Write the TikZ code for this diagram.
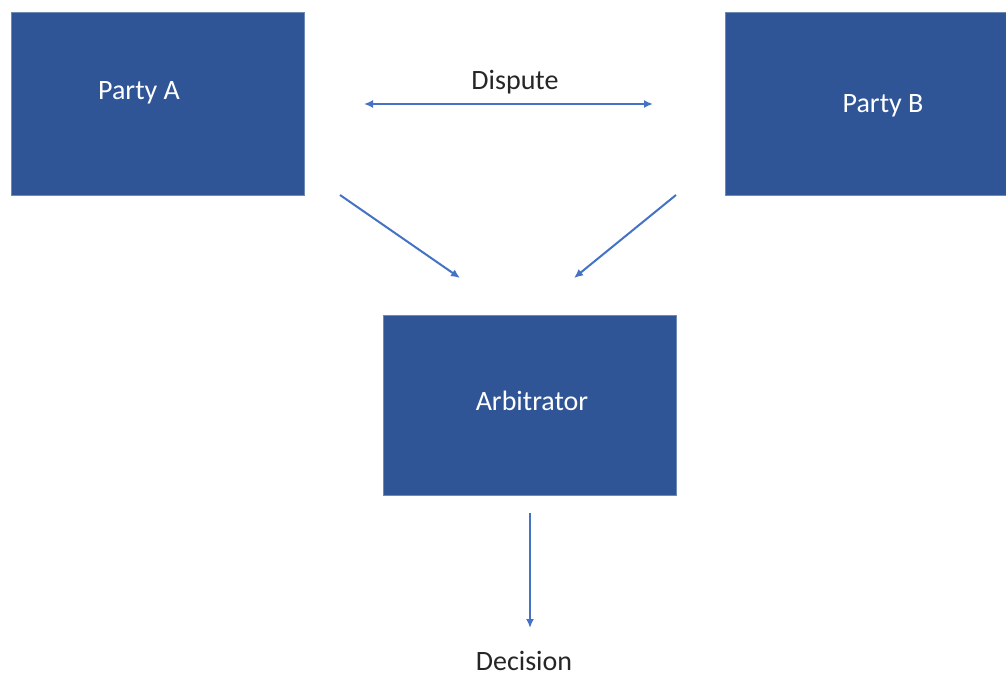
\documentclass[tikz,border=0pt]{standalone}
\usepackage{fontspec}
\setmainfont{Carlito}
\usetikzlibrary{arrows.meta}
\definecolor{boxblue}{HTML}{2F5597}
\definecolor{boxedge}{HTML}{6D8AB5}
\definecolor{arrowblue}{HTML}{4472C4}
\begin{document}
\begin{tikzpicture}[x=1pt,y=-1pt,
  box/.style={fill=boxblue,draw=boxedge,line width=0.6pt,inner sep=0pt,outer sep=0pt},
  boxtext/.style={text=white,font=\fontsize{28}{32}\selectfont,inner sep=0pt},
  plaintext/.style={text=black!85,font=\fontsize{28}{32}\selectfont,inner sep=0pt},
  conn/.style={draw=arrowblue,line width=2pt,-{Latex[length=9pt,width=8pt]}},
  dconn/.style={draw=arrowblue,line width=2pt,{Latex[length=9pt,width=8pt]}-{Latex[length=9pt,width=8pt]}}]
\useasboundingbox (0,0) rectangle (1006,676);
\fill[white] (0,0) rectangle (1006,676);
% boxes
\node[box,minimum width=293pt,minimum height=183pt] (pa) at (157.5,103.5) {};
\node[box,minimum width=282pt,minimum height=183pt] (pb) at (866,103.5) {};
\node[box,minimum width=293pt,minimum height=180pt] (arb) at (529.5,405) {};
% texts
\node[boxtext] (pat) at (139,93) {Party A};
\node[boxtext] (pbt) at (883,106) {Party B};
\node[boxtext] (arbt) at (532,401) {Arbitrator};
\node[plaintext] (disp) at (515,82) {Dispute};
\node[plaintext] (dec) at (524,661) {Decision};
% connector end points
\coordinate (d1) at (364,104);
\coordinate (d2) at (653,104);
\coordinate (a1) at (340,195);
\coordinate (a2) at (460,278);
\coordinate (b1) at (676,195);
\coordinate (b2) at (574,278);
\coordinate (c1) at (530,513);
\coordinate (c2) at (530,628);
\draw[dconn] (d1) -- (d2);
\draw[conn] (a1) -- (a2);
\draw[conn] (b1) -- (b2);
\draw[conn] (c1) -- (c2);
\end{tikzpicture}
\end{document}
